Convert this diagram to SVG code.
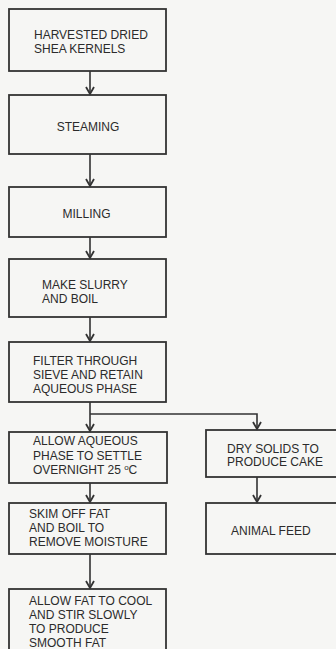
<svg xmlns="http://www.w3.org/2000/svg" width="336" height="649" viewBox="0 0 336 649">
<defs>
<marker id="arr" markerUnits="userSpaceOnUse" markerWidth="14" markerHeight="14" viewBox="-10 -7 14 14" refX="0" refY="0" orient="auto">
<path d="M-7,-4 L0,0 L-7,4" fill="none" stroke="#333" stroke-width="1.8" stroke-linejoin="miter"/>
</marker>
</defs>
<style>
.box{fill:none;stroke:#333;stroke-width:1.8}
.t{font-family:"Liberation Sans",Arial,sans-serif;font-size:12px;fill:#2b2b2b}
.c{stroke:#333;stroke-width:1.6;fill:none}
</style>
<rect x="0" y="0" width="336" height="649" fill="#f6f6f4"/>
<g id="connectors">
<line class="c" x1="90" y1="71" x2="90" y2="94" marker-end="url(#arr)"/>
<line class="c" x1="90" y1="154" x2="90" y2="186" marker-end="url(#arr)"/>
<line class="c" x1="90" y1="237" x2="90" y2="258" marker-end="url(#arr)"/>
<line class="c" x1="90" y1="317" x2="90" y2="341" marker-end="url(#arr)"/>
<line class="c" x1="90" y1="402" x2="90" y2="431" marker-end="url(#arr)"/>
<polyline class="c" points="90,414 257,414 257,429" marker-end="url(#arr)"/>
<line class="c" x1="90" y1="483" x2="90" y2="502" marker-end="url(#arr)"/>
<line class="c" x1="90" y1="554" x2="90" y2="588" marker-end="url(#arr)"/>
<line class="c" x1="257" y1="477" x2="257" y2="502" marker-end="url(#arr)"/>
</g>
<g id="n1"><rect class="box" x="9" y="9" width="157" height="62"/>
<text class="t" x="34" y="38.5">HARVESTED DRIED</text><text class="t" x="34" y="52.5">SHEA KERNELS</text></g>
<g id="n2"><rect class="box" x="9" y="95" width="157" height="59"/>
<text class="t" x="88" y="131" text-anchor="middle">STEAMING</text></g>
<g id="n3"><rect class="box" x="9" y="187" width="157" height="50"/>
<text class="t" x="86.5" y="217.5" text-anchor="middle">MILLING</text></g>
<g id="n4"><rect class="box" x="9" y="259" width="157" height="58"/>
<text class="t" x="42" y="288.5">MAKE SLURRY</text><text class="t" x="42" y="302.5">AND BOIL</text></g>
<g id="n5"><rect class="box" x="9" y="342" width="157" height="60"/>
<text class="t" x="33" y="364.5">FILTER THROUGH</text><text class="t" x="33" y="378.5">SIEVE AND RETAIN</text><text class="t" x="33" y="392.5">AQUEOUS PHASE</text></g>
<g id="n6"><rect class="box" x="9" y="432" width="158" height="51"/>
<text class="t" x="33" y="445">ALLOW AQUEOUS</text><text class="t" x="33" y="459.5">PHASE TO SETTLE</text><text class="t" x="33" y="474">OVERNIGHT 25 <tspan font-size="8" dy="-4">o</tspan><tspan dy="4">C</tspan></text></g>
<g id="n7"><rect class="box" x="9" y="503" width="157" height="51"/>
<text class="t" x="29" y="517.5">SKIM OFF FAT</text><text class="t" x="29" y="531.5">AND BOIL TO</text><text class="t" x="29" y="545.5">REMOVE MOISTURE</text></g>
<g id="n8"><rect class="box" x="9" y="589" width="157" height="80"/>
<text class="t" x="29" y="605">ALLOW FAT TO COOL</text><text class="t" x="29" y="619">AND STIR SLOWLY</text><text class="t" x="29" y="633">TO PRODUCE</text><text class="t" x="29" y="647">SMOOTH FAT</text></g>
<g id="n9"><rect class="box" x="206" y="430" width="140" height="47"/>
<text class="t" x="227" y="452.5">DRY SOLIDS TO</text><text class="t" x="227" y="466">PRODUCE CAKE</text></g>
<g id="n10"><rect class="box" x="206" y="503" width="140" height="51"/>
<text class="t" x="231" y="535">ANIMAL FEED</text></g>
</svg>
